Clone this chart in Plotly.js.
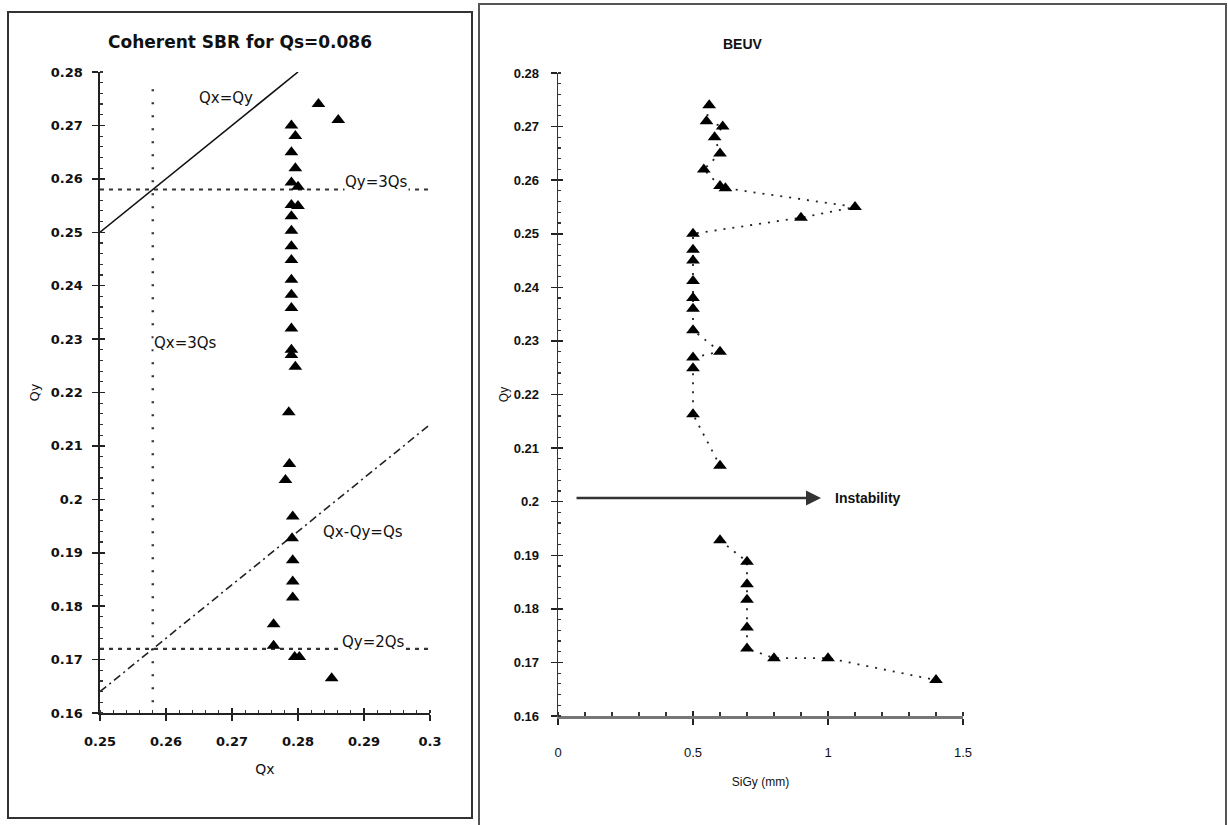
<!DOCTYPE html>
<html>
<head>
<meta charset="utf-8">
<script src="https://cdn.plot.ly/plotly-3.0.1.min.js"></script>
<style>html,body{margin:0;padding:0;background:#fff;}#chart{width:1228px;height:825px;}</style>
</head>
<body>
<div id="chart"></div>
<script>
// ---------- data ----------
const Qs = 0.086;

// Left panel: coherent SBR tune points (Qx, Qy)
const sbrQx = [0.2831, 0.2861, 0.2790, 0.2796, 0.2790, 0.2796, 0.2790, 0.2800, 0.2790, 0.2800,
               0.2790, 0.2790, 0.2790, 0.2790, 0.2790, 0.2790, 0.2790, 0.2790, 0.2790, 0.2790,
               0.2796, 0.2786, 0.2787, 0.2781, 0.2792, 0.2791, 0.2792, 0.2792, 0.2792, 0.2763,
               0.2763, 0.2795, 0.2802, 0.2851];
const sbrQy = [0.2740, 0.2710, 0.2700, 0.2680, 0.2650, 0.2620, 0.2593, 0.2585, 0.2551, 0.2549,
               0.2530, 0.2503, 0.2474, 0.2448, 0.2411, 0.2383, 0.2358, 0.2320, 0.2280, 0.2270,
               0.2248, 0.2163, 0.2066, 0.2036, 0.1968, 0.1927, 0.1886, 0.1846, 0.1816, 0.1766,
               0.1726, 0.1705, 0.1705, 0.1665];

// Right panel: BEUV beam size vs Qy (null = instability gap)
const beuvSigy = [0.56, 0.55, 0.61, 0.58, 0.60, 0.54, 0.60, 0.62, 1.10, 0.90,
                  0.50, 0.50, 0.50, 0.50, 0.50, 0.50, 0.50, 0.60, 0.50, 0.50,
                  0.50, 0.60, null, 0.60, 0.70, 0.70, 0.70, 0.70, 0.70, 0.80,
                  1.00, 1.40];
const beuvQy   = [0.2740, 0.2710, 0.2700, 0.2680, 0.2650, 0.2620, 0.2589, 0.2585, 0.2550, 0.2530,
                  0.2500, 0.2470, 0.2450, 0.2412, 0.2380, 0.2360, 0.2320, 0.2280, 0.2269, 0.2249,
                  0.2163, 0.2067, null, 0.1928, 0.1888, 0.1846, 0.1817, 0.1765, 0.1726, 0.1708,
                  0.1708, 0.1667];

// Resonance lines (derived from Qs)
const diagQx = [0.25, 0.28];
const diagQy = [0.25, 0.28];
const vertQx = [3 * Qs, 3 * Qs];
const vertQy = [0.162, 0.278];
const horizQx = [0.25, 0.30];
const diffQx = [0.25, 0.30];
const diffQy = diffQx.map(v => v - Qs);

// Instability arrow (SiGy range, Qy level)
const instabX = [0.063, 0.974];
const instabQy = 0.2007;

// Tick labels
const leftXTicks = [0.25, 0.26, 0.27, 0.28, 0.29, 0.30];
const leftXText  = ['0.25', '0.26', '0.27', '0.28', '0.29', '0.3'];
const qyTicks = [0.16, 0.17, 0.18, 0.19, 0.20, 0.21, 0.22, 0.23, 0.24, 0.25, 0.26, 0.27, 0.28];
const qyText  = ['0.16', '0.17', '0.18', '0.19', '0.2', '0.21', '0.22', '0.23', '0.24', '0.25', '0.26', '0.27', '0.28'];
const rightXTicks = [0, 0.5, 1, 1.5];
const rightXText  = ['0', '0.5', '1', '1.5'];

// ---------- styling ----------
const LF = 'DejaVu Sans, Verdana, sans-serif';
const RF = 'Liberation Sans, Arial, Helvetica, sans-serif';
const ink = '#111';

const tri = {symbol: 'triangle-up', size: 12, color: '#000'};

const traces = [
  {x: diagQx, y: diagQy, mode: 'lines', line: {color: '#111', width: 1.6}, xaxis: 'x', yaxis: 'y', hoverinfo: 'skip'},
  {x: vertQx, y: vertQy, mode: 'lines', line: {color: '#333', width: 2.5, dash: '2px,11px'}, xaxis: 'x', yaxis: 'y', hoverinfo: 'skip'},
  {x: horizQx, y: [3 * Qs, 3 * Qs], mode: 'lines', line: {color: '#333', width: 2.2, dash: '4px,5px'}, xaxis: 'x', yaxis: 'y', hoverinfo: 'skip'},
  {x: horizQx, y: [2 * Qs, 2 * Qs], mode: 'lines', line: {color: '#333', width: 2.2, dash: '4px,5px'}, xaxis: 'x', yaxis: 'y', hoverinfo: 'skip'},
  {x: diffQx, y: diffQy, mode: 'lines', line: {color: '#222', width: 1.6, dash: '8px,4px,2px,4px'}, xaxis: 'x', yaxis: 'y', hoverinfo: 'skip'},
  {x: sbrQx, y: sbrQy, mode: 'markers', marker: tri, xaxis: 'x', yaxis: 'y', name: 'SBR'},
  {x: beuvSigy, y: beuvQy, mode: 'lines+markers', connectgaps: false,
   line: {color: '#222', width: 1.8, dash: '2px,7px'}, marker: tri, xaxis: 'x2', yaxis: 'y2', name: 'BEUV'},
  // empty traces to activate overlay axes (crossing major ticks)
  {x: [], y: [], xaxis: 'x3', yaxis: 'y3', hoverinfo: 'skip'},
  {x: [], y: [], xaxis: 'x4', yaxis: 'y4', hoverinfo: 'skip'}
];

function baseAxis(extra) {
  return Object.assign({
    showgrid: false, zeroline: false, showline: true, fixedrange: true,
    ticks: 'outside', ticklen: 6, tickwidth: 1.5, tickcolor: '#222'
  }, extra);
}
function overlayAxis(extra) {
  return Object.assign({
    showgrid: false, zeroline: false, showline: false, showticklabels: false,
    ticks: 'inside', ticklen: 5, tickwidth: 1.5, tickcolor: '#222', fixedrange: true
  }, extra);
}

const LXD = [100 / 1228, 430 / 1228];
const LYD = [1 - 713 / 825, 1 - 72 / 825];
const RXD = [558 / 1228, 963 / 1228];
const RYD = [1 - 716 / 825, 1 - 73 / 825];

const layout = {
  width: 1228, height: 825,
  margin: {l: 0, r: 0, t: 0, b: 0},
  paper_bgcolor: '#fff', plot_bgcolor: 'rgba(0,0,0,0)',
  showlegend: false,
  xaxis: baseAxis({
    domain: LXD, range: [0.25, 0.30], anchor: 'y',
    tickmode: 'array', tickvals: leftXTicks, ticktext: leftXText,
    minor: {tickmode: 'linear', tick0: 0.25, dtick: 0.002, ticks: 'inside', ticklen: 3, tickwidth: 1.2, tickcolor: '#333'},
    linewidth: 2, linecolor: '#222',
    tickfont: {family: LF, size: 13, color: ink, weight: 'bold'}, ticklabelstandoff: 9,
    title: {text: 'Qx', font: {family: LF, size: 14, color: ink}, standoff: 17}
  }),
  yaxis: baseAxis({
    domain: LYD, range: [0.16, 0.28], anchor: 'x',
    tickmode: 'array', tickvals: qyTicks, ticktext: qyText,
    minor: {tickmode: 'linear', tick0: 0.16, dtick: 0.002, ticks: 'inside', ticklen: 3, tickwidth: 1.2, tickcolor: '#333'},
    linewidth: 1.6, linecolor: '#222',
    tickfont: {family: LF, size: 13, color: ink, weight: 'bold'}, ticklabelstandoff: 7,
    title: {text: 'Qy', font: {family: LF, size: 13, color: ink}, standoff: 8}
  }),
  xaxis2: baseAxis({
    domain: RXD, range: [0, 1.5], anchor: 'y2',
    tickmode: 'array', tickvals: rightXTicks, ticktext: rightXText,
    minor: {tickmode: 'linear', tick0: 0, dtick: 0.1, ticks: 'inside', ticklen: 4, tickwidth: 1.2, tickcolor: '#333'},
    linewidth: 3, linecolor: '#777',
    tickfont: {family: RF, size: 13, color: ink}, ticklabelstandoff: 16,
    title: {text: 'SiGy (mm)', font: {family: RF, size: 12, color: ink}, standoff: 20}
  }),
  yaxis2: baseAxis({
    domain: RYD, range: [0.16, 0.28], anchor: 'x2',
    tickmode: 'array', tickvals: qyTicks, ticktext: qyText,
    minor: {tickmode: 'linear', tick0: 0.16, dtick: 0.002, ticks: 'inside', ticklen: 3, tickwidth: 1.2, tickcolor: '#333'},
    linewidth: 1.4, linecolor: '#333',
    tickfont: {family: RF, size: 13, color: ink, weight: 'bold'}, ticklabelstandoff: 9,
    title: {text: 'Qy', font: {family: RF, size: 12, color: ink}, standoff: 2}
  }),
  xaxis3: overlayAxis({overlaying: 'x', anchor: 'y', range: [0.25, 0.30], domain: LXD, tickmode: 'array', tickvals: leftXTicks}),
  yaxis3: overlayAxis({overlaying: 'y', anchor: 'x', range: [0.16, 0.28], domain: LYD, tickmode: 'array', tickvals: qyTicks}),
  xaxis4: overlayAxis({overlaying: 'x2', anchor: 'y2', range: [0, 1.5], domain: RXD, tickmode: 'array', tickvals: rightXTicks}),
  yaxis4: overlayAxis({overlaying: 'y2', anchor: 'x2', range: [0.16, 0.28], domain: RYD, tickmode: 'array', tickvals: qyTicks}),
  shapes: [
    {type: 'rect', xref: 'paper', yref: 'paper', x0: 8 / 1228, x1: 472 / 1228, y0: 1 - 818 / 825, y1: 1 - 12 / 825,
     line: {color: '#333', width: 2}},
    {type: 'rect', xref: 'paper', yref: 'paper', x0: 479 / 1228, x1: 1226 / 1228, y0: -0.02, y1: 1 - 4 / 825,
     line: {color: '#555', width: 2}}
  ],
  annotations: [
    {xref: 'paper', yref: 'paper', x: 240 / 1228, y: 1 - 42 / 825, xanchor: 'center', yanchor: 'middle',
     text: '<b>Coherent SBR for Qs=0.086</b>', showarrow: false, font: {family: LF, size: 17, color: ink}},
    {xref: 'paper', yref: 'paper', x: 743 / 1228, y: 1 - 44 / 825, xanchor: 'center', yanchor: 'middle',
     text: '<b>BEUV</b>', showarrow: false, font: {family: RF, size: 14, color: ink}},
    {xref: 'x', yref: 'y', x: 0.2691, y: 0.2752, xanchor: 'center', text: 'Qx=Qy', showarrow: false,
     font: {family: LF, size: 15, color: ink}},
    {xref: 'x', yref: 'y', x: 0.2919, y: 0.2595, xanchor: 'center', text: 'Qy=3Qs', showarrow: false, bgcolor: '#fff', borderpad: 0,
     font: {family: LF, size: 15, color: ink}},
    {xref: 'x', yref: 'y', x: 0.2581, y: 0.2292, xanchor: 'left', text: 'Qx=3Qs', showarrow: false, bgcolor: '#fff', borderpad: 0,
     font: {family: LF, size: 15, color: ink}},
    {xref: 'x', yref: 'y', x: 0.2898, y: 0.1938, xanchor: 'center', text: 'Qx-Qy=Qs', showarrow: false,
     font: {family: LF, size: 15, color: ink}},
    {xref: 'x', yref: 'y', x: 0.2915, y: 0.1733, xanchor: 'center', text: 'Qy=2Qs', showarrow: false, bgcolor: '#fff', borderpad: 0,
     font: {family: LF, size: 15, color: ink}},
    {xref: 'x2', yref: 'y2', axref: 'x2', ayref: 'y2', x: instabX[1], y: instabQy, ax: instabX[0], ay: instabQy,
     text: '', showarrow: true, arrowhead: 2, arrowsize: 1.2, arrowwidth: 2.5, arrowcolor: '#333'},
    {xref: 'x2', yref: 'y2', x: 1.148, y: instabQy, xanchor: 'center', text: '<b>Instability</b>', showarrow: false,
     font: {family: RF, size: 14, color: ink}}
  ]
};

Plotly.newPlot('chart', traces, layout, {displayModeBar: false, staticPlot: true});
</script>
</body>
</html>
